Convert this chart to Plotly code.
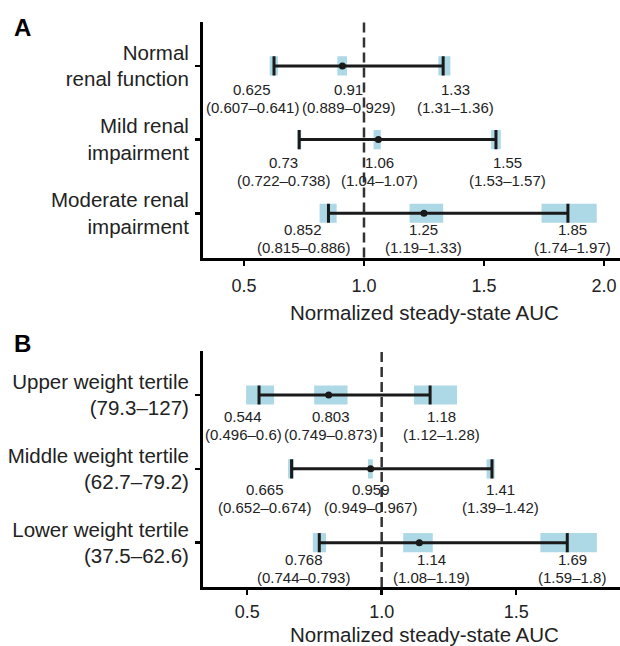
import plotly.graph_objects as go

# ---------------- data ----------------
# Panel A: renal function groups
groups_a = ["Normal<br>renal function", "Mild renal<br>impairment", "Moderate renal<br>impairment"]
low_a = [0.625, 0.73, 0.852]
low_lo_a = [0.607, 0.722, 0.815]
low_hi_a = [0.641, 0.738, 0.886]
mid_a = [0.91, 1.06, 1.25]
mid_lo_a = [0.889, 1.04, 1.19]
mid_hi_a = [0.929, 1.07, 1.33]
high_a = [1.33, 1.55, 1.85]
high_lo_a = [1.31, 1.53, 1.74]
high_hi_a = [1.36, 1.57, 1.97]
xticks_a = [0.5, 1.0, 1.5, 2.0]

# Panel B: weight tertiles
groups_b = ["Upper weight tertile<br>(79.3–127)", "Middle weight tertile<br>(62.7–79.2)",
            "Lower weight tertile<br>(37.5–62.6)"]
low_b = [0.544, 0.665, 0.768]
low_lo_b = [0.496, 0.652, 0.744]
low_hi_b = [0.6, 0.674, 0.793]
mid_b = [0.803, 0.959, 1.14]
mid_lo_b = [0.749, 0.949, 1.08]
mid_hi_b = [0.873, 0.967, 1.19]
high_b = [1.18, 1.41, 1.69]
high_lo_b = [1.12, 1.39, 1.59]
high_hi_b = [1.28, 1.42, 1.8]
xticks_b = [0.5, 1.0, 1.5]

reference_value = 1.0
x_title = "Normalized steady-state AUC"

# ---------------- layout tweaks (label repel offsets, px) ----------------
nudge_x_a = [[-22, 6, 12], [-16, 1, 12], [-25, 0, 5]]
nudge_y_a = [24, 23, 16.5]
nudge_x_b = [[-16, 2, 11], [-27, 0, 9], [-15.5, 12, 5]]
nudge_y_b = [21, 20.5, 16.5]
LINE_GAP = 18

FONT = "Liberation Sans, Arial, Helvetica, sans-serif"
INK = "#1a1a1a"
TXT = "#222222"
BLUE = "#ADD8E6"
HALF = 0.13

W, H = 620, 646


def px(xp):
    return xp / W


def py(yp):
    return 1 - yp / H


fig = go.Figure()
shapes = []
annotations = []


def fmt(v):
    return f"{v:g}"


def add_panel(xr, yr, groups, stats, nudge_x, nudge_y):
    n = len(groups)
    rows = [n - i for i in range(n)]
    lx, ly = [], []
    for i, r in enumerate(rows):
        for (v, lo, hi) in stats:
            shapes.append(dict(type="rect", xref=xr, yref=yr, x0=lo[i], x1=hi[i],
                               y0=r - HALF, y1=r + HALF, fillcolor=BLUE,
                               line=dict(width=0), layer="below"))
        lo_v, hi_v = stats[0][0][i], stats[2][0][i]
        lx += [lo_v, hi_v, None, lo_v, lo_v, None, hi_v, hi_v, None]
        ly += [r, r, None, r - HALF, r + HALF, None, r - HALF, r + HALF, None]
        for k, (v, lo, hi) in enumerate(stats):
            for j, txt in enumerate([fmt(v[i]), f"({fmt(lo[i])}–{fmt(hi[i])})"]):
                annotations.append(dict(
                    xref=xr, yref=yr, x=v[i], y=r, text=txt, showarrow=False,
                    xanchor="center", yanchor="middle",
                    xshift=nudge_x[i][k], yshift=-(nudge_y[i] + j * LINE_GAP),
                    font=dict(family=FONT, size=15, color=TXT)))
    fig.add_trace(go.Scatter(x=lx, y=ly, mode="lines", xaxis=xr, yaxis=yr,
                             line=dict(color=INK, width=3), hoverinfo="skip",
                             showlegend=False))
    fig.add_trace(go.Scatter(x=stats[1][0], y=rows, mode="markers", xaxis=xr, yaxis=yr,
                             marker=dict(color=INK, size=7), showlegend=False))
    shapes.append(dict(type="line", xref=xr, yref=f"{yr} domain", x0=reference_value,
                       x1=reference_value, y0=0, y1=1, layer="above",
                       line=dict(color="#333333", width=2.5, dash="10px,5px")))
    return rows


rows_a = add_panel("x", "y", groups_a,
                   [(low_a, low_lo_a, low_hi_a), (mid_a, mid_lo_a, mid_hi_a),
                    (high_a, high_lo_a, high_hi_a)], nudge_x_a, nudge_y_a)
rows_b = add_panel("x2", "y2", groups_b,
                   [(low_b, low_lo_b, low_hi_b), (mid_b, mid_lo_b, mid_hi_b),
                    (high_b, high_lo_b, high_hi_b)], nudge_x_b, nudge_y_b)

axis_common = dict(showline=True, linewidth=3, linecolor="black", ticks="outside",
                   ticklen=5, tickwidth=2.5, tickcolor="black", showgrid=False,
                   zeroline=False, fixedrange=True)

fig.update_layout(
    width=W, height=H, margin=dict(l=0, r=0, t=0, b=0),
    paper_bgcolor="white", plot_bgcolor="white", showlegend=False,
    xaxis=dict(axis_common, domain=[px(203), 1], range=[0.329, 2.067], anchor="y",
               tickvals=xticks_a, ticktext=[f"{t:.1f}" for t in xticks_a],
               tickfont=dict(family=FONT, size=18, color=TXT), ticklabelstandoff=5),
    yaxis=dict(axis_common, domain=[py(257.5), py(21.7)], range=[0.4, 3.6],
               anchor="x", tickvals=rows_a, ticktext=groups_a,
               tickfont=dict(family=FONT, size=20.5, color=TXT), ticklabelstandoff=2),
    xaxis2=dict(axis_common, domain=[px(203), 1], range=[0.3357, 1.886], anchor="y2",
                tickvals=xticks_b, ticktext=[f"{t:.1f}" for t in xticks_b],
                tickfont=dict(family=FONT, size=18, color=TXT), ticklabelstandoff=1),
    yaxis2=dict(axis_common, domain=[py(587), py(350.7)], range=[0.4, 3.6],
                anchor="x2", tickvals=rows_b, ticktext=groups_b,
                tickfont=dict(family=FONT, size=20.5, color=TXT), ticklabelstandoff=2),
)

annotations += [
    dict(xref="paper", yref="paper", x=px(424), y=py(312), text=x_title,
         showarrow=False, xanchor="center", yanchor="middle",
         font=dict(family=FONT, size=20.5, color=TXT)),
    dict(xref="paper", yref="paper", x=px(425), y=py(634), text=x_title,
         showarrow=False, xanchor="center", yanchor="middle",
         font=dict(family=FONT, size=20.5, color=TXT)),
    dict(xref="paper", yref="paper", x=px(22), y=py(27), text="<b>A</b>",
         showarrow=False, xanchor="center", yanchor="middle",
         font=dict(family=FONT, size=24, color="black")),
    dict(xref="paper", yref="paper", x=px(22), y=py(343), text="<b>B</b>",
         showarrow=False, xanchor="center", yanchor="middle",
         font=dict(family=FONT, size=24, color="black")),
]
fig.update_layout(shapes=shapes, annotations=annotations)

# remove the browser's default page margin so the figure fills the window exactly
page_fix = ("document.documentElement.style.margin='0';document.body.style.margin='0';"
            "document.body.style.padding='0';document.body.style.overflow='hidden';")
fig.write_html("out.html", post_script=page_fix,
               config={"displayModeBar": False, "staticPlot": True})
